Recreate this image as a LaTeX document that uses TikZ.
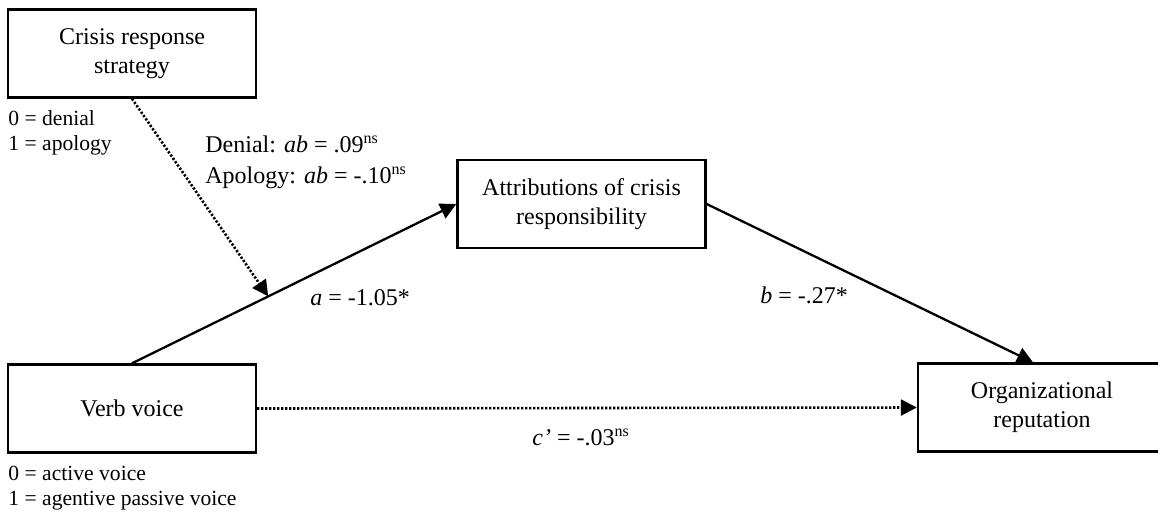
\documentclass[tikz,border=0pt]{standalone}
\usepackage{fontspec}
\setmainfont{Liberation Serif}
\usetikzlibrary{arrows.meta}

\begin{document}
\begin{tikzpicture}[
  x=0.5pt, y=-0.5pt,
  box/.style={draw=black,line width=1.2pt,minimum width=124pt,minimum height=44pt,
    align=center,inner sep=0pt,font=\fontsize{12}{14.5}\selectfont},
  code/.style={anchor=base west,inner sep=0pt,font=\fontsize{10.8}{12}\selectfont},
  lbl/.style={anchor=base west,inner sep=0pt,font=\fontsize{12}{14.5}\selectfont},
  flow/.style={draw=black,line width=1.15pt,-{Triangle[length=8pt,width=8pt]}},
  dotflow/.style={flow,line width=1.3pt,dash pattern=on 1.1pt off 0.9pt}
]
  \useasboundingbox (0,0) rectangle (1158,511);

  \node[box] (crs) at (132, 53.5) {Crisis response\\strategy};
  \node[box] (att) at (581.5, 204) {Attributions of crisis\\responsibility};
  \node[box] (vv) at (132, 408.5) {Verb voice};
  \node[box] (rep) at (1042, 407.5) {Organizational\\reputation};

  \node[code] (c0) at (8, 125) {0 = denial};
  \node[code] (c1) at (8, 150) {1 = apology};
  \node[code] (v0) at (8, 480) {0 = active voice};
  \node[code] (v1) at (8, 505) {1 = agentive passive voice};

  \node[lbl] (den) at (205, 152) {Denial: \textit{ab} = .09\textsuperscript{ns}};
  \node[lbl] (apo) at (205, 183) {Apology: \textit{ab} = -.10\textsuperscript{ns}};
  \node[lbl] (pa) at (310, 305) {\textit{a} = -1.05*};
  \node[lbl] (pb) at (760, 303) {\textit{b} = -.27*};
  \node[lbl] (pc) at (532, 445) {\textit{c’} = -.03\textsuperscript{ns}};

  \draw[flow] (vv.north) -- coordinate[pos=0.42] (mod) (att.west);
  \draw[dotflow] (crs.south) -- (mod);
  \draw[flow] (att.east) -- ([xshift=-4.5pt]rep.north);
  \draw[dotflow] (vv.east) -- (rep.west);
\end{tikzpicture}
\end{document}
